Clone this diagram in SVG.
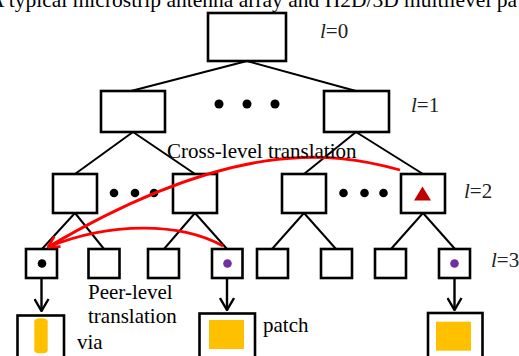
<svg xmlns="http://www.w3.org/2000/svg" width="519" height="356" viewBox="0 0 519 356">
<style>
.box{fill:#fff;stroke:#000;stroke-width:2.6}
.ln{stroke:#000;stroke-width:2;fill:none}
.dn{stroke:#000;stroke-width:2.4;fill:none}
.red{stroke:#ff0000;stroke-width:2.8;fill:none}
.t{font-family:"Liberation Serif","Times New Roman",serif;font-size:21px;fill:#000}
.lv{font-family:"Liberation Serif","Times New Roman",serif;font-size:21px;fill:#222}
.dot{fill:#000}
.pdot{fill:#7030a0}
.yel{fill:#ffc000}
</style>
<defs>
<marker id="ah" markerUnits="userSpaceOnUse" viewBox="0 0 14 16" refX="13" refY="8" markerWidth="14" markerHeight="16" orient="auto">
<path d="M1,1 L13,8 L1,15" fill="none" stroke="#000" stroke-width="2.4"/>
</marker>
<marker id="rh" markerUnits="userSpaceOnUse" viewBox="0 0 13 14" refX="12" refY="7" markerWidth="13" markerHeight="14" orient="auto">
<path d="M1,1 L12,7 L1,13" fill="none" stroke="#ff0000" stroke-width="2.6"/>
</marker>
</defs>
<rect width="519" height="356" fill="#fff"/>
<text class="t" x="-11" y="6.5" textLength="528" lengthAdjust="spacingAndGlyphs">A typical microstrip antenna array and H2D/3D multilevel pa</text>

<g id="connectors">
<line class="ln" x1="247" y1="61" x2="131" y2="91"/>
<line class="ln" x1="247" y1="61" x2="356" y2="91"/>
<line class="ln" x1="133" y1="132" x2="75" y2="174"/>
<line class="ln" x1="133" y1="132" x2="195" y2="174"/>
<line class="ln" x1="356" y1="132" x2="304" y2="174"/>
<line class="ln" x1="356" y1="132" x2="423" y2="174"/>
<line class="ln" x1="75" y1="213" x2="42" y2="249"/>
<line class="ln" x1="75" y1="213" x2="104" y2="249"/>
<line class="ln" x1="195" y1="213" x2="164" y2="249"/>
<line class="ln" x1="195" y1="213" x2="227" y2="249"/>
<line class="ln" x1="304" y1="213" x2="272" y2="249"/>
<line class="ln" x1="304" y1="213" x2="336" y2="249"/>
<line class="ln" x1="423" y1="213" x2="391" y2="249"/>
<line class="ln" x1="423" y1="213" x2="455" y2="249"/>
<line class="dn" x1="41.5" y1="278" x2="41.5" y2="311" marker-end="url(#ah)"/>
<line class="dn" x1="227" y1="278" x2="227" y2="310" marker-end="url(#ah)"/>
<line class="dn" x1="454.5" y1="278" x2="454.5" y2="310" marker-end="url(#ah)"/>
</g>

<g id="n0"><rect class="box" x="208" y="13" width="78" height="48"/></g>
<text class="lv" x="320" y="38"><tspan font-style="italic">l</tspan>=0</text>

<g id="n1a"><rect class="box" x="101" y="91" width="64" height="41"/></g>
<g id="n1b"><rect class="box" x="324" y="91" width="65" height="41"/></g>
<g id="dots1"><circle class="dot" cx="219" cy="104" r="4.5"/><circle class="dot" cx="247" cy="104" r="4.5"/><circle class="dot" cx="275" cy="104" r="4.5"/></g>
<text class="lv" x="411" y="112"><tspan font-style="italic">l</tspan>=1</text>

<g id="n2a"><rect class="box" x="53" y="174" width="44" height="39"/></g>
<g id="n2b"><rect class="box" x="173" y="174" width="44" height="39"/></g>
<g id="n2c"><rect class="box" x="282" y="174" width="44" height="39"/></g>
<g id="n2d"><rect class="box" x="401" y="174" width="44" height="39"/><path d="M422.5,186.5 L431,200.5 L414,200.5 Z" fill="#c00000"/></g>
<g id="dots2a"><circle class="dot" cx="114" cy="193" r="4.3"/><circle class="dot" cx="135" cy="193" r="4.3"/><circle class="dot" cx="154" cy="193" r="4.3"/></g>
<g id="dots2b"><circle class="dot" cx="343.5" cy="193" r="4.3"/><circle class="dot" cx="364.5" cy="193" r="4.3"/><circle class="dot" cx="383.5" cy="193" r="4.3"/></g>
<text class="lv" x="464" y="198"><tspan font-style="italic">l</tspan>=2</text>

<g id="n3a"><rect class="box" x="26" y="249" width="31" height="29"/><circle class="dot" cx="42" cy="263.5" r="4.3"/></g>
<g id="n3b"><rect class="box" x="88.5" y="249" width="31" height="29"/></g>
<g id="n3c"><rect class="box" x="148" y="249" width="31" height="29"/></g>
<g id="n3d"><rect class="box" x="212" y="249" width="30.5" height="29"/><circle class="pdot" cx="227.5" cy="263.5" r="4.3"/></g>
<g id="n3e"><rect class="box" x="257" y="249" width="31" height="29"/></g>
<g id="n3f"><rect class="box" x="321" y="249" width="31" height="29"/></g>
<g id="n3g"><rect class="box" x="375" y="249" width="31" height="29"/></g>
<g id="n3h"><rect class="box" x="439" y="249" width="31" height="29"/><circle class="pdot" cx="454.5" cy="263.5" r="4.3"/></g>
<text class="lv" x="491" y="267"><tspan font-style="italic">l</tspan>=3</text>

<g id="via"><rect class="box" x="17.5" y="315.5" width="46.5" height="50"/><rect class="yel" x="34.3" y="318.3" width="13.4" height="35" rx="5" ry="3"/></g>
<text class="t" x="77" y="349">via</text>
<g id="patch"><rect class="box" x="199.5" y="313.5" width="55.5" height="50"/><rect class="yel" x="209" y="320" width="35" height="29"/></g>
<text class="t" x="263" y="332">patch</text>
<g id="patch2"><rect class="box" x="428" y="313" width="54.5" height="50"/><rect class="yel" x="436" y="321.7" width="35" height="29"/></g>

<g id="translations">
<path class="red" d="M400,170 C330,150 230,140 48,247" marker-end="url(#rh)"/>
<path class="red" d="M223,246 C180,222 110,222 48,247"/>
</g>
<text class="t" x="167" y="158">Cross-level translation</text>
<text class="t" x="88" y="298.5">Peer-level</text>
<text class="t" x="88" y="323">translation</text>
</svg>
